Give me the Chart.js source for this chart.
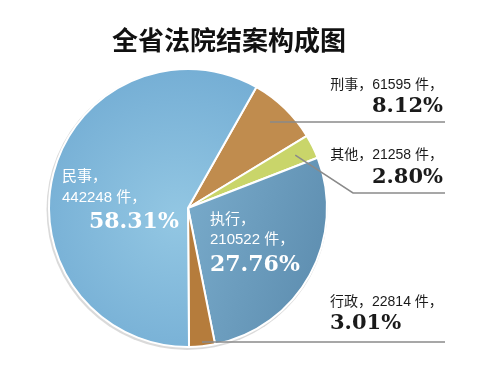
<!DOCTYPE html>
<html>
<head>
<meta charset="utf-8">
<script src="https://cdn.jsdelivr.net/npm/chart.js@4/dist/chart.umd.min.js"></script>
<style>
  html, body { margin: 0; padding: 0; background: #ffffff; }
  #wrap { width: 500px; height: 376px; position: relative; }
</style>
</head>
<body>
<div id="wrap"><canvas id="c" width="500" height="376"></canvas></div>
<script>
// ---- data ----
const titleText = '全省法院结案构成图';
const categories = ['刑事', '其他', '执行', '行政', '民事'];
const counts = [61595, 21258, 210522, 22814, 442248];
const percentLabels = ['8.12%', '2.80%', '27.76%', '3.01%', '58.31%'];
const unit = '件';

const baseColors = ['#c08c4e', '#c9d56a', '#6e9fc0', '#b57c3c', '#80b8da'];

const SANS = '"Liberation Sans", "Noto Sans CJK SC", sans-serif';
const SERIF = '"DejaVu Serif", "Liberation Serif", serif';
const CJK_BOLD = '"Noto Sans CJK SC", sans-serif';

function sliceColor(ctx) {
  const chart = ctx.chart;
  const i = ctx.dataIndex;
  const area = chart.chartArea;
  if (!area) return baseColors[i];
  const cx = (area.left + area.right) / 2;
  const cy = (area.top + area.bottom) / 2;
  const r = Math.min(area.width, area.height) / 2;
  const c = chart.ctx;
  if (i === 4) {
    const g = c.createRadialGradient(cx - 10, cy + 10, 0, cx - 10, cy + 10, r * 1.05);
    g.addColorStop(0, '#93c7e3');
    g.addColorStop(1, '#76afd5');
    return g;
  }
  if (i === 2) {
    const g = c.createLinearGradient(cx, cy, cx + r, cy + r * 0.3);
    g.addColorStop(0, '#77a9c9');
    g.addColorStop(1, '#5f8fb1');
    return g;
  }
  return baseColors[i];
}

const shadowPlugin = {
  id: 'pieShadow',
  beforeDatasetsDraw(chart) {
    const arc = chart.getDatasetMeta(0).data[0];
    if (!arc) return;
    const c = chart.ctx;
    c.save();
    c.beginPath();
    c.arc(arc.x - 1, arc.y + 1.5, arc.outerRadius + 1.5, 0, Math.PI * 2);
    c.fillStyle = 'rgba(150,150,150,0.35)';
    c.fill();
    c.restore();
  }
};

const labelPlugin = {
  id: 'pieLabels',
  afterDatasetsDraw(chart) {
    const meta = chart.getDatasetMeta(0);
    const a0 = meta.data[0];
    if (!a0) return;
    const cx = a0.x, cy = a0.y, R = a0.outerRadius;
    const c = chart.ctx;
    const W = chart.width;

    // title
    c.save();
    c.fillStyle = '#111111';
    c.font = 'bold 26px ' + CJK_BOLD;
    c.textAlign = 'center';
    c.textBaseline = 'middle';
    c.fillText(titleText, 229, 40);
    c.restore();

    const line1 = i => categories[i] + '，' + counts[i] + ' ' + unit + '，';

    function point(i, frac) {
      const el = meta.data[i];
      const mid = (el.startAngle + el.endAngle) / 2;
      return { x: cx + Math.cos(mid) * R * frac, y: cy + Math.sin(mid) * R * frac };
    }

    c.save();
    c.strokeStyle = '#8a8a8a';
    c.lineWidth = 1.5;
    // 刑事 leader
    c.beginPath();
    c.moveTo(cx + 82, cy - 86);
    c.lineTo(W - 55, cy - 86);
    c.stroke();
    // 其他 leader
    const p1 = point(1, 0.86);
    c.beginPath();
    c.moveTo(p1.x, p1.y);
    c.lineTo(cx + 165, cy - 15);
    c.lineTo(W - 55, cy - 15);
    c.stroke();
    // 行政 leader
    c.beginPath();
    c.moveTo(cx + 14, cy + 134);
    c.lineTo(W - 55, cy + 134);
    c.stroke();
    c.restore();

    c.save();
    c.textBaseline = 'middle';
    // outside labels
    c.fillStyle = '#1a1a1a';
    c.textAlign = 'right';
    c.font = '14px ' + SANS;
    c.fillText(line1(0), W - 57, cy - 123);
    c.fillText(line1(1), W - 57, cy - 53);
    c.font = 'bold 21px ' + SERIF;
    c.fillText(percentLabels[0], W - 57, cy - 101);
    c.fillText(percentLabels[1], W - 57, cy - 30);
    c.textAlign = 'left';
    c.font = '14px ' + SANS;
    c.fillText(line1(3), cx + 142, cy + 94);
    c.font = 'bold 21px ' + SERIF;
    c.fillText(percentLabels[3], cx + 142, cy + 116);

    // inside labels
    c.fillStyle = '#ffffff';
    c.font = '15px ' + SANS;
    c.fillText(categories[4] + '，', cx - 126, cy - 31);
    c.fillText(counts[4] + ' ' + unit + '，', cx - 126, cy - 10);
    c.fillText(categories[2] + '，', cx + 22, cy + 12);
    c.fillText(counts[2] + ' ' + unit + '，', cx + 22, cy + 32);
    c.font = 'bold 22px ' + SERIF;
    c.fillText(percentLabels[4], cx - 99, cy + 14);
    c.fillText(percentLabels[2], cx + 22, cy + 57);
    c.restore();
  }
};

new Chart(document.getElementById('c'), {
  type: 'pie',
  data: {
    labels: categories,
    datasets: [{
      data: counts,
      backgroundColor: sliceColor,
      borderColor: '#ffffff',
      borderWidth: 2
    }]
  },
  options: {
    responsive: false,
    animation: false,
    rotation: 29.5,
    layout: { padding: { left: 48, right: 172, top: 68, bottom: 28 } },
    plugins: {
      legend: { display: false },
      tooltip: { enabled: false },
      title: { display: false }
    }
  },
  plugins: [shadowPlugin, labelPlugin]
});
</script>
</body>
</html>
